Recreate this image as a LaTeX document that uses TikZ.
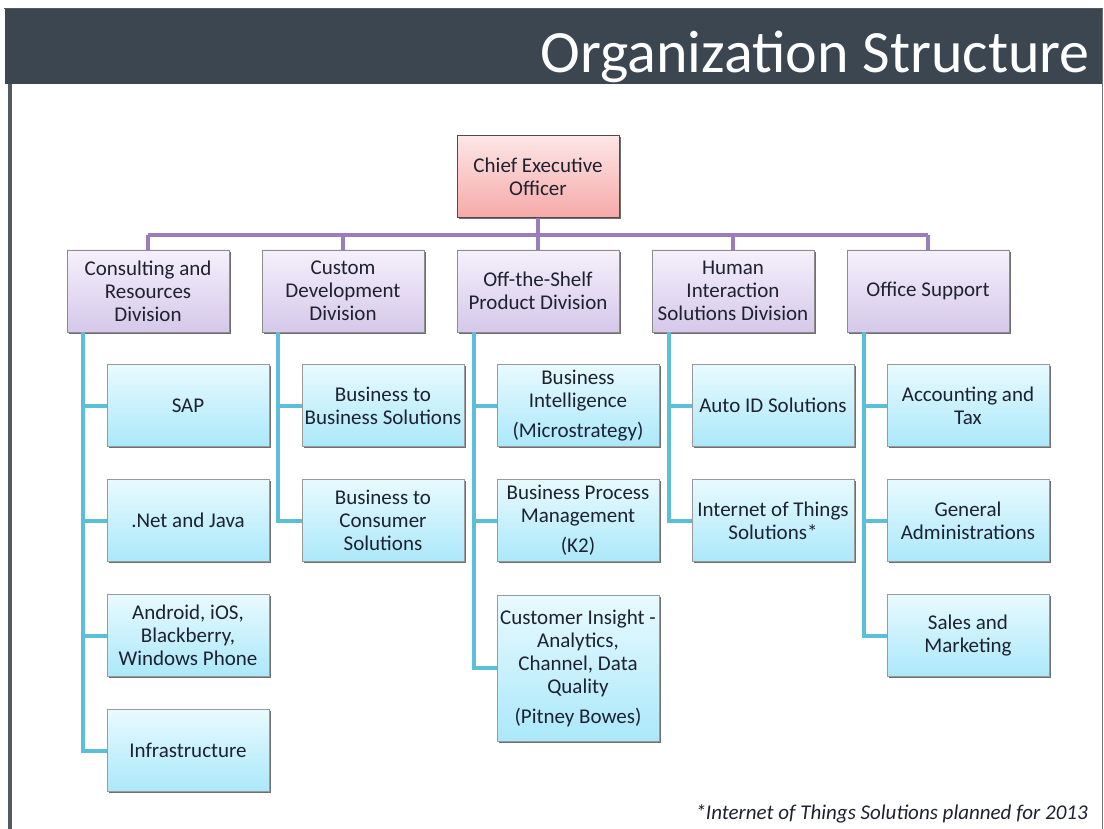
\documentclass[tikz,border=0pt]{standalone}
\usepackage{fontspec}
\setmainfont{Carlito}
\usetikzlibrary{shadows}
\definecolor{titlebar}{HTML}{3C4651}
\definecolor{framegray}{HTML}{555A60}
\definecolor{txt}{HTML}{1E2230}
\definecolor{purpleline}{HTML}{9A7DBA}
\definecolor{cyanline}{HTML}{5BBFD7}
\definecolor{pinktop}{HTML}{FDE6E6}
\definecolor{pinkbot}{HTML}{F7A9A9}
\definecolor{purtop}{HTML}{F5F0FB}
\definecolor{purbot}{HTML}{D5C8EA}
\definecolor{cyantop}{HTML}{E8FAFE}
\definecolor{cyanbot}{HTML}{ABE8FA}
\definecolor{boxborder}{HTML}{9A9A9A}
\tikzset{
  basebox/.style={minimum width=162pt, minimum height=82pt, inner xsep=0pt, inner ysep=2pt,
    align=center, text=txt, font=\fontsize{21}{23}\selectfont,
    drop shadow={shadow xshift=1.6pt, shadow yshift=-1.6pt, opacity=0.75, fill=black!75}},
  ceobox/.style={basebox, draw=black!70, line width=0.6pt, top color=pinktop, bottom color=pinkbot},
  divbox/.style={basebox, draw=black!45, line width=0.6pt, top color=purtop, bottom color=purbot},
  unitbox/.style={basebox, draw=boxborder, line width=0.6pt, top color=cyantop, bottom color=cyanbot},
  purplelink/.style={draw=purpleline, line width=4pt},
  cyanlink/.style={draw=cyanline, line width=4pt},
}
\begin{document}
\begin{tikzpicture}[x=1pt,y=-1pt]
\useasboundingbox (0,0) rectangle (1104,829);
\fill[white] (0,0) rectangle (1104,829);
% frame and title bar
\fill[titlebar] (5,9) rectangle (1102,84);
\draw[framegray, line width=1.5pt] (4,8.5) -- (1103,8.5);
\fill[framegray] (8,84) rectangle (12,829);
\draw[black!55, line width=1.2pt] (1102.4,9) -- (1102.4,829);
\node[anchor=base east, text=white, font=\fontsize{60}{62}\selectfont, inner sep=0pt] (title) at (1090,73) {Organization Structure};

\coordinate (bus) at (538,235);

% CEO
\node[ceobox] (ceo) at (538,176.5) {Chief Executive\\Officer};

% divisions
\node[divbox] (d1) at (148,291) {Consulting and\\Resources\\Division};
\node[divbox] (d2) at (343,291) {Custom\\Development\\Division};
\node[divbox] (d3) at (538,291) {Off-the-Shelf\\Product Division};
\node[divbox] (d4) at (733,291) {Human\\Interaction\\Solutions Division};
\node[divbox] (d5) at (928,291) {Office Support};

% spines
\path (d1.south west) ++(16,0) coordinate (s1);
\path (d2.south west) ++(16,0) coordinate (s2);
\path (d3.south west) ++(17,0) coordinate (s3);
\path (d4.south west) ++(17,0) coordinate (s4);
\path (d5.south west) ++(17,0) coordinate (s5);

% units
\node[unitbox] (u11) at (188,405.5) {SAP};
\node[unitbox] (u12) at (188,520.5) {.Net and Java};
\node[unitbox] (u13) at (188,635.5) {Android, iOS,\\Blackberry,\\Windows Phone};
\node[unitbox] (u14) at (188,750.5) {Infrastructure};

\node[unitbox] (u21) at (383,405.5) {Business to\\Business Solutions};
\node[unitbox] (u22) at (383,520.5) {Business to\\Consumer\\Solutions};

\node[unitbox] (u31) at (578,405.5) {Business\\Intelligence\\[7pt](Microstrategy)};
\node[unitbox] (u32) at (578,520.5) {Business Process\\Management\\[7pt](K2)};
\node[unitbox, minimum height=146pt] (u33) at (578,668) {Customer Insight -\\Analytics,\\Channel, Data\\Quality\\[7pt](Pitney Bowes)};

\node[unitbox] (u41) at (773,405.5) {Auto ID Solutions};
\node[unitbox] (u42) at (773,520.5) {Internet of Things\\Solutions*};

\node[unitbox] (u51) at (968,405.5) {Accounting and\\Tax};
\node[unitbox] (u52) at (968,520.5) {General\\Administrations};
\node[unitbox] (u53) at (968,635.5) {Sales and\\Marketing};

% purple links
\draw[purplelink] (ceo.south) -- (ceo.south |- bus);
\draw[purplelink] (d1.north |- bus) -- (d5.north |- bus);
\foreach \d in {d1,d2,d3,d4,d5}{
  \draw[purplelink] (\d.north |- bus) -- (\d.north);
}

% cyan links
\draw[cyanlink] (s1) |- (u14.west);
\draw[cyanlink] (s1 |- u11.west) -- (u11.west);
\draw[cyanlink] (s1 |- u12.west) -- (u12.west);
\draw[cyanlink] (s1 |- u13.west) -- (u13.west);

\draw[cyanlink] (s2) |- (u22.west);
\draw[cyanlink] (s2 |- u21.west) -- (u21.west);

\draw[cyanlink] (s3) |- (u33.west);
\draw[cyanlink] (s3 |- u31.west) -- (u31.west);
\draw[cyanlink] (s3 |- u32.west) -- (u32.west);

\draw[cyanlink] (s4) |- (u42.west);
\draw[cyanlink] (s4 |- u41.west) -- (u41.west);

\draw[cyanlink] (s5) |- (u53.west);
\draw[cyanlink] (s5 |- u51.west) -- (u51.west);
\draw[cyanlink] (s5 |- u52.west) -- (u52.west);

% footnote
\node[anchor=base east, text=txt, font=\fontsize{21}{23}\selectfont\itshape, inner sep=0pt] (note) at (1088,819) {*Internet of Things Solutions planned for 2013};
\end{tikzpicture}
\end{document}
